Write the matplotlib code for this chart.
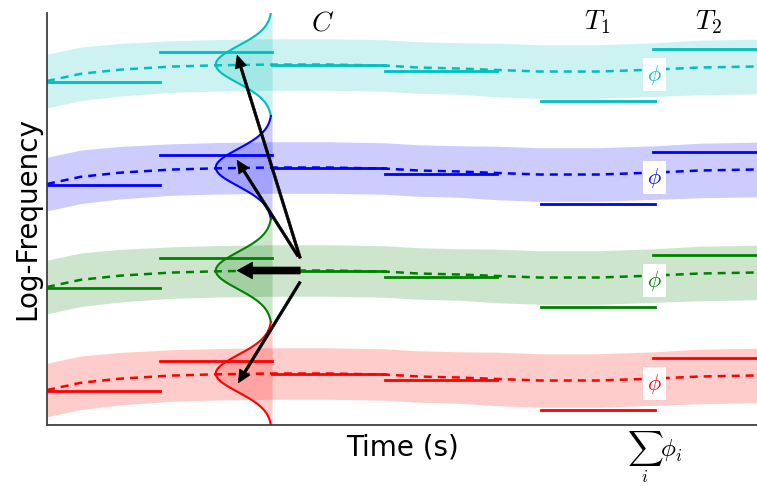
import matplotlib

matplotlib.use("agg")
import matplotlib.pyplot as plt
import numpy as np

plt.rcParams["mathtext.fontset"] = "cm"

# one band per component, top to bottom
colors = ["c", "b", "g", "r"]
centers = [3.5, 2.5, 1.5, 0.5]

# smooth mean (dashed) relative to each band centre
mean_x = [0.0, 0.3, 0.65, 1.1, 1.5, 2.0, 2.5, 3.0, 3.3, 3.67, 4.0, 4.38, 4.9, 5.4, 5.8, 6.31]
mean_off = [-0.16, -0.09, -0.05, -0.02, -0.008, 0.0, 0.0, -0.01, -0.029, -0.039, -0.053, -0.068, -0.068,
            -0.049, -0.029, -0.019]
band_half = [0.26, 0.26, 0.255, 0.25, 0.25, 0.25, 0.25, 0.25, 0.25, 0.25, 0.26, 0.26, 0.26, 0.26, 0.265, 0.265]

# observed log-frequency steps (start, end, offset from band centre)
seg_start = [0.0, 1.0, 2.0, 3.0, 4.39, 5.39]
seg_end = [1.0, 2.0, 3.0, 4.0, 5.4, 6.31]
seg_off = [-0.17, 0.12, -0.008, -0.063, -0.35, 0.155]

# prior density at time C
gauss_x0 = 2.0
gauss_amp = 0.5
gauss_sd = 0.18

# arrows: (tail x, tail y) -> (tip x, tip y)
arrow_tail = [(2.25, 1.62), (2.23, 1.64), (2.25, 1.5), (2.25, 1.39)]
arrow_tip = [(1.69, 3.59), (1.69, 2.57), (1.69, 1.5), (1.70, 0.41)]

fig = plt.figure(figsize=(7.57, 4.86), dpi=100)
ax = fig.add_axes([0.0621, 0.1255, 0.9379, 0.8477])

mx = np.array(mean_x)
mo = np.array(mean_off)
bh = np.array(band_half)

for col, c in zip(colors, centers):
    m = c + mo
    ax.fill_between(mx, m - bh, m + bh, color=col, alpha=0.2, lw=0)
    ax.plot(mx, m, "--", color=col, lw=1.8, dashes=(3.2, 2.4))
    for s0, s1, off in zip(seg_start, seg_end, seg_off):
        ax.plot([s0, s1], [c + off, c + off], "-", color=col, lw=2)

    yy = np.linspace(c - 0.5, c + 0.5, 200)
    gx = gauss_x0 - gauss_amp * np.exp(-((yy - c) ** 2) / (2 * gauss_sd**2))
    ax.fill_betweenx(yy, gx, gauss_x0, color=col, alpha=0.2, lw=0)
    ax.plot(gx, yy, color=col, lw=1.5)

    ax.text(5.4, c - 0.1, r"$\phi$", color=col, fontsize=16, ha="center", va="center",
            bbox=dict(boxstyle="square,pad=0.2", fc="white", ec="none"), zorder=5)

for i, (tail, tip) in enumerate(zip(arrow_tail, arrow_tip)):
    if i == 2:
        props = dict(facecolor="k", edgecolor="k", width=5, headwidth=12, headlength=11, shrink=0, lw=0.5)
    else:
        props = dict(facecolor="k", edgecolor="k", width=1.8, headwidth=8.5, headlength=9, shrink=0, lw=0.5)
    ax.annotate("", xy=tip, xytext=tail, arrowprops=props, zorder=6)

ax.text(2.45, 3.91, r"$C$", fontsize=20, ha="center", va="center")
ax.text(4.89, 3.91, r"$T_1$", fontsize=20, ha="center", va="center")
ax.text(5.88, 3.91, r"$T_2$", fontsize=20, ha="center", va="center")
ax.text(5.4, -0.04, r"$\sum_i \phi_i$", fontsize=18, ha="center", va="top", clip_on=False)

ax.set_xlim(0, 6.31)
ax.set_ylim(0, 4)
ax.set_xticks([])
ax.set_yticks([])
ax.spines["top"].set_visible(False)
ax.spines["right"].set_visible(False)
for side in ["left", "bottom"]:
    ax.spines[side].set_linewidth(1.3)
    ax.spines[side].set_color("0.25")
ax.set_xlabel("Time (s)", fontsize=20, labelpad=6)
ax.set_ylabel("Log-Frequency", fontsize=20)

fig.savefig("out.png", dpi=100)
